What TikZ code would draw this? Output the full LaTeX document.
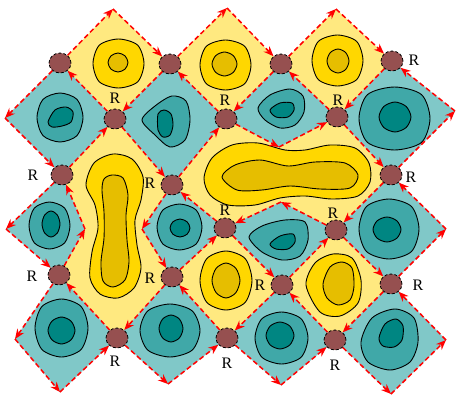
\documentclass[tikz,border=0pt]{standalone}
\usepackage{fontspec}
\setmainfont{Liberation Serif}
\usetikzlibrary{arrows.meta,shapes.geometric}
\definecolor{ylight}{RGB}{255,233,128}
\definecolor{ymid}{RGB}{255,215,0}
\definecolor{ydark}{RGB}{230,190,0}
\definecolor{tlight}{RGB}{128,200,200}
\definecolor{tmid}{RGB}{64,168,168}
\definecolor{tdark}{RGB}{0,134,130}
\definecolor{dotbrown}{RGB}{150,80,80}
\definecolor{edgered}{RGB}{255,0,0}
\definecolor{seam}{RGB}{175,210,212}
\newcommand\ctr[6]{%
 \pgfmathsetmacro\cxm{(#2+#3)/2}\pgfmathsetmacro\cym{(#4+#5)/2}%
 \pgfmathsetmacro\chw{#6*(#3-#2)/2}\pgfmathsetmacro\chh{#6*(#5-#4)/2}%
 \draw[#1] plot[smooth cycle] coordinates {(#2,\cym) (\cxm-\chw,\cym-\chh) (\cxm,#4) (\cxm+\chw,\cym-\chh) (#3,\cym) (\cxm+\chw,\cym+\chh) (\cxm,#5) (\cxm-\chw,\cym+\chh)};}
\begin{document}
\begin{tikzpicture}[x=1pt,y=-1pt,
  ycell/.style={fill=ylight},
  tcell/.style={fill=tlight,draw=seam,line width=0.5pt},
  yo/.style={fill=ymid,draw=black,line width=0.9pt},
  yi/.style={fill=ydark,draw=black,line width=0.9pt},
  to/.style={fill=tmid,draw=black,line width=0.9pt},
  ti/.style={fill=tdark,draw=black,line width=0.9pt},
  flow/.style={draw=edgered,line width=1.5pt,dash pattern=on 5pt off 3pt,-{Stealth[length=10pt,width=8pt]}},
  dotn/.style={ellipse,minimum width=22pt,minimum height=20pt,inner sep=0pt,fill=dotbrown,draw=black,line width=0.8pt,dash pattern=on 3pt off 2pt},
  lab/.style={font=\fontsize{16}{18}\selectfont,inner sep=0pt}]
\useasboundingbox (0,0) rectangle (456,397);
% vertex positions
\coordinate (c00) at (60,63);   \coordinate (c20) at (170,64);
\coordinate (c40) at (281,64);  \coordinate (c60) at (392,61);
\coordinate (c11) at (115,119); \coordinate (c31) at (226,119);
\coordinate (c51) at (337,117); \coordinate (c02) at (62,175);
\coordinate (c22) at (172,185); \coordinate (c62) at (391,175);
\coordinate (c33) at (225,228); \coordinate (c53) at (336,230);
\coordinate (c04) at (59,275);  \coordinate (c24) at (172,277);
\coordinate (c44) at (282,285); \coordinate (c64) at (391,284);
\coordinate (c15) at (117,338); \coordinate (c35) at (227,338);
\coordinate (c55) at (335,340);
% free corners
\coordinate (y10t) at (113,9);  \coordinate (y30t) at (227,8);
\coordinate (y50t) at (336,9);  \coordinate (l1) at (5,118);
\coordinate (r61) at (455,111); \coordinate (l3) at (6,229);
\coordinate (r03) at (85,229);  \coordinate (l23) at (142,229);
\coordinate (r63) at (446,229); \coordinate (b41) at (279,147);
\coordinate (t43) at (281,202); \coordinate (l5) at (15,339);
\coordinate (r65) at (446,340); \coordinate (b05) at (60,392);
\coordinate (b25) at (168,384); \coordinate (b45) at (281,385);
\coordinate (b65) at (391,394);
% yellow cells
\fill[ycell] (c00)--(y10t)--(c20)--(c11)--cycle;
\fill[ycell] (c20)--(y30t)--(c40)--(c31)--cycle;
\fill[ycell] (c40)--(y50t)--(c60)--(c51)--cycle;
\fill[ycell] (c11)--(c22)--(l23)--(c24)--(c15)--(c04)--(r03)--(c02)--cycle;
\fill[ycell] (c22)--(c31)--(b41)--(c51)--(c62)--(c53)--(t43)--(c33)--cycle;
\fill[ycell] (c24)--(c33)--(c44)--(c35)--cycle;
\fill[ycell] (c44)--(c53)--(c64)--(c55)--cycle;
% teal cells
\filldraw[tcell] (c00)--(l1)--(c02)--(c11)--cycle;
\filldraw[tcell] (c20)--(c11)--(c22)--(c31)--cycle;
\filldraw[tcell] (c40)--(c31)--(b41)--(c51)--cycle;
\filldraw[tcell] (c60)--(c51)--(c62)--(r61)--cycle;
\filldraw[tcell] (c02)--(l3)--(c04)--(r03)--cycle;
\filldraw[tcell] (c22)--(l23)--(c24)--(c33)--cycle;
\filldraw[tcell] (t43)--(c33)--(c44)--(c53)--cycle;
\filldraw[tcell] (c62)--(c53)--(c64)--(r63)--cycle;
\filldraw[tcell] (c04)--(l5)--(b05)--(c15)--cycle;
\filldraw[tcell] (c24)--(c15)--(b25)--(c35)--cycle;
\filldraw[tcell] (c44)--(c35)--(b45)--(c55)--cycle;
\filldraw[tcell] (c64)--(c55)--(b65)--(r65)--cycle;
% yellow contours
\ctr{yo}{93}{144}{39}{88}{0.75}  \ctr{yi}{108}{128}{53}{72}{0.7}
\ctr{yo}{200}{251}{40}{90}{0.75} \ctr{yi}{212}{237}{52}{76}{0.7}
\ctr{yo}{312}{363}{35}{86}{0.75} \ctr{yi}{327}{349}{49}{73}{0.7}
\ctr{yo}{200}{252}{251}{310}{0.74} \ctr{yi}{212}{240}{263}{298}{0.7}
\draw[yo] plot[smooth cycle] coordinates {(306,285) (315,263) (333,254) (352,258) (361,280) (358,303) (340,316) (320,312)};
\draw[yi] plot[smooth cycle] coordinates {(323,284) (330,267) (342,262) (352,268) (354,286) (350,300) (338,305) (327,298)};
\draw[yo] plot[smooth cycle] coordinates {(113,154) (132,159) (143,177) (141,200) (135,220) (137,245) (141,268) (134,288) (118,298) (100,294) (90,278) (92,252) (98,228) (95,205) (86,185) (94,163)};
\draw[yi] plot[smooth cycle] coordinates {(112,175) (123,178) (128,195) (126,215) (127,240) (129,262) (125,280) (113,287) (103,281) (101,262) (104,238) (104,212) (102,190) (104,179)};
\draw[yo] plot[smooth cycle] coordinates {(204,178) (212,158) (232,145) (258,143) (285,150) (305,150) (330,145) (355,148) (369,163) (370,182) (358,196) (332,199) (305,196) (280,198) (255,205) (228,205) (210,195)};
\draw[yi] plot[smooth cycle] coordinates {(222,177) (235,165) (260,160) (288,166) (315,162) (345,163) (358,175) (350,188) (320,189) (290,186) (262,190) (237,190)};
% teal contours
\ctr{to}{37}{83}{93}{142}{0.74}
\draw[ti] plot[smooth cycle] coordinates {(48,122) (55,110) (66,107) (73,112) (71,122) (62,126) (52,127)};
\draw[to] plot[smooth cycle] coordinates {(142,120) (155,106) (172,96) (186,101) (190,120) (185,140) (170,147) (155,135)};
\draw[ti] plot[smooth cycle] coordinates {(158,114) (164,110) (171,114) (173,125) (170,135) (163,137) (158,130)};
\draw[to] plot[smooth cycle] coordinates {(258,108) (270,95) (290,89) (303,96) (304,112) (295,125) (280,128) (265,120)};
\draw[ti] plot[smooth cycle] coordinates {(270,110) (280,103) (292,103) (294,110) (288,117) (276,117)};
\ctr{to}{359}{430}{87}{150}{0.76} \ctr{ti}{379}{411}{102}{132}{0.7}
\ctr{to}{29}{70}{202}{249}{0.74} \ctr{ti}{42}{60}{211}{237}{0.7}
\ctr{to}{157}{202}{204}{250}{0.74} \ctr{ti}{170}{190}{219}{237}{0.7}
\draw[to] plot[smooth cycle] coordinates {(249,237) (262,226) (285,220) (305,222) (308,240) (300,256) (282,260) (262,252)};
\draw[ti] plot[smooth cycle] coordinates {(270,244) (280,236) (293,234) (295,242) (288,249) (276,249)};
\ctr{to}{359}{419}{199}{259}{0.75} \ctr{ti}{373}{401}{217}{242}{0.7}
\ctr{to}{35}{88}{299}{357}{0.74} \ctr{ti}{48}{75}{317}{344}{0.7}
\ctr{to}{140}{200}{304}{357}{0.74} \ctr{ti}{159}{183}{315}{342}{0.7}
\ctr{to}{255}{308}{312}{364}{0.74} \ctr{ti}{266}{294}{322}{349}{0.7}
\draw[to] plot[smooth cycle] coordinates {(361,342) (372,318) (395,309) (414,318) (418,342) (410,362) (390,370) (368,362)};
\draw[ti] plot[smooth cycle] coordinates {(379,338) (385,324) (396,319) (403,326) (402,340) (394,347) (383,346)};
% vertex dots
\foreach \n in {00,20,40,60,11,31,51,02,22,62,33,53,04,24,44,64,15,35,55}
  \node[dotn] (d\n) at (c\n) {};
% flow edges
\draw[flow] (d00)--(l1);  \draw[flow] (l1)--(d02);  \draw[flow] (d02)--(d11); \draw[flow] (d11)--(d00);
\draw[flow] (d20)--(d11); \draw[flow] (d11)--(d22); \draw[flow] (d22)--(d31); \draw[flow] (d31)--(d20);
\draw[flow] (d40)--(d31); \draw[flow] (d31)--(b41); \draw[flow] (b41)--(d51); \draw[flow] (d51)--(d40);
\draw[flow] (d60)--(d51); \draw[flow] (d51)--(d62); \draw[flow] (d62)--(r61); \draw[flow] (r61)--(d60);
\draw[flow] (d02)--(l3);  \draw[flow] (l3)--(d04);  \draw[flow] (d04)--(r03); \draw[flow] (r03)--(d02);
\draw[flow] (d22)--(l23); \draw[flow] (l23)--(d24); \draw[flow] (d24)--(d33); \draw[flow] (d33)--(d22);
\draw[flow] (t43)--(d33); \draw[flow] (d33)--(d44); \draw[flow] (d44)--(d53); \draw[flow] (d53)--(t43);
\draw[flow] (d62)--(d53); \draw[flow] (d53)--(d64); \draw[flow] (d64)--(r63); \draw[flow] (r63)--(d62);
\draw[flow] (d04)--(l5);  \draw[flow] (l5)--(b05);  \draw[flow] (b05)--(d15); \draw[flow] (d15)--(d04);
\draw[flow] (d24)--(d15); \draw[flow] (d15)--(b25); \draw[flow] (b25)--(d35); \draw[flow] (d35)--(d24);
\draw[flow] (d44)--(d35); \draw[flow] (d35)--(b45); \draw[flow] (b45)--(d55); \draw[flow] (d55)--(d44);
\draw[flow] (d64)--(d55); \draw[flow] (d55)--(b65); \draw[flow] (b65)--(r65); \draw[flow] (r65)--(d64);
\draw[flow] (d00)--(y10t); \draw[flow] (y10t)--(d20);
\draw[flow] (d20)--(y30t); \draw[flow] (y30t)--(d40);
\draw[flow] (d40)--(y50t); \draw[flow] (y50t)--(d60);
% labels
\node[lab] (R1) at (115,98) {R};   \node[lab] (R2) at (225,100) {R};
\node[lab] (R3) at (338,100) {R};  \node[lab] (R4) at (414,60) {R};
\node[lab] (R5) at (33,175) {R};   \node[lab] (R6) at (150,183) {R};
\node[lab] (R7) at (411,177) {R};  \node[lab] (R8) at (225,210) {R};
\node[lab] (R9) at (333,213) {R};  \node[lab] (R10) at (32,276) {R};
\node[lab] (R11) at (150,278) {R}; \node[lab] (R12) at (260,285) {R};
\node[lab] (R13) at (418,285) {R}; \node[lab] (R14) at (115,361) {R};
\node[lab] (R15) at (227,363) {R}; \node[lab] (R16) at (335,365) {R};
\end{tikzpicture}
\end{document}
